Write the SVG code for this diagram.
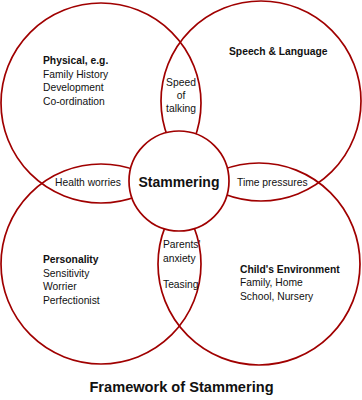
<svg xmlns="http://www.w3.org/2000/svg" width="362" height="400" viewBox="0 0 362 400">
<style>
.c{fill:none;stroke:#a00000;stroke-width:1.7}
.cc{fill:#fff;stroke:#a00000;stroke-width:1.7}
text{font-family:"Liberation Sans",Arial,sans-serif;font-size:10.3px;fill:#111}
.b{font-weight:bold}
.m{text-anchor:middle}
.big{font-size:14px;font-weight:bold}
.title{font-size:14.6px;font-weight:bold;text-anchor:middle}
</style>
<rect width="362" height="400" fill="#fff"/>
<g id="physical">
<circle class="c" cx="101" cy="103" r="100"/>
<text x="43" y="64" class="b">Physical, e.g.</text>
<text x="43" y="77.5">Family History</text>
<text x="43" y="91">Development</text>
<text x="43" y="104.5">Co-ordination</text>
</g>
<g id="speech">
<circle class="c" cx="261" cy="101" r="100"/>
<text x="229" y="55" class="b">Speech &amp; Language</text>
</g>
<g id="personality">
<circle class="c" cx="101" cy="264" r="100"/>
<text x="43" y="263" class="b">Personality</text>
<text x="43" y="276.5">Sensitivity</text>
<text x="43" y="290">Worrier</text>
<text x="43" y="303.5">Perfectionist</text>
</g>
<g id="environment">
<circle class="c" cx="259" cy="264" r="101"/>
<text x="240" y="272.5" class="b">Child's Environment</text>
<text x="240" y="286">Family, Home</text>
<text x="240" y="299.5">School, Nursery</text>
</g>
<g id="stammering">
<circle class="cc" cx="179" cy="181" r="50"/>
<text x="179" y="186.5" class="big m">Stammering</text>
</g>
<g id="speed-of-talking">
<text x="181" y="86" class="m">Speed</text>
<text x="181" y="99" class="m">of</text>
<text x="181" y="111.5" class="m">talking</text>
</g>
<g id="health-worries">
<text x="55" y="185.5">Health worries</text>
</g>
<g id="time-pressures">
<text x="237" y="185.5">Time pressures</text>
</g>
<g id="parents-anxiety">
<text x="163" y="248">Parents'</text>
<text x="163" y="261.5">anxiety</text>
<text x="163" y="288">Teasing</text>
</g>
<g id="connectors"></g>
<text x="181.5" y="392" class="title">Framework of Stammering</text>
</svg>
